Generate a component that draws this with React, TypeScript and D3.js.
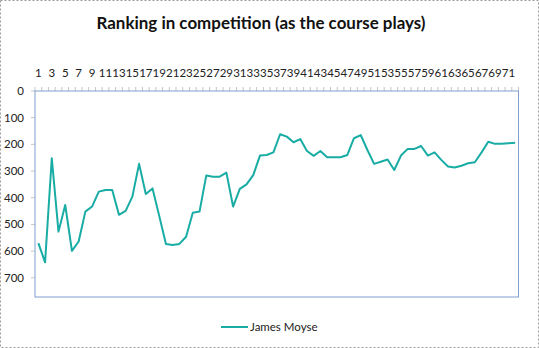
import React from "react";
import * as d3 from "d3";

const categories: number[] = Array.from({ length: 72 }, (_, i) => i + 1);
const ranking: number[] = [
  570, 642, 252, 527, 427, 599, 564, 452, 433, 377,
  371, 371, 464, 449, 396, 273, 386, 365, 468, 573,
  577, 573, 546, 456, 452, 317, 321, 321, 306, 433,
  367, 350, 315, 242, 240, 230, 162, 171, 192, 180,
  225, 243, 225, 248, 248, 248, 240, 177, 165, 221,
  273, 265, 257, 296, 242, 217, 217, 206, 242, 230,
  258, 283, 287, 280, 271, 267, 230, 190, 198, 198,
  196, 194,
];
const yTicks: number[] = [0, 100, 200, 300, 400, 500, 600, 700];
const seriesName = "James Moyse";
const title = "Ranking in competition (as the course plays)";

const W = 539;
const H = 348;
const left = 35;
const right = 518.5;
const top = 91;
const bottom = 297;
const FONT = "Lato, 'Open Sans', sans-serif";
const LINE = "#19aca4";
const AXIS = "#7f9fd0";

export default function App() {
  const x = d3.scaleBand<number>().domain(categories).range([left, right]).padding(0);
  const cx = (c: number) => (x(c) as number) + x.bandwidth() / 2;
  const y = d3.scaleLinear().domain([0, 772]).range([top, bottom]);
  const line = d3
    .line<number>()
    .x((_, i) => cx(categories[i]))
    .y((d) => y(d));

  const boundaries = categories.map((c) => x(c) as number).concat([right]);

  return (
    <svg
      width={W}
      height={H}
      style={{ position: "absolute", left: 0, top: 0, background: "#fff" }}
      fontFamily={FONT}
    >
      <rect x={0.5} y={0.5} width={W - 1} height={H - 1} fill="#fff" stroke="#9a9a9a" strokeDasharray="2,2" />
      <text x={261} y={29} textAnchor="middle" fontSize={17.5} fontWeight="bold" fill="#111" textLength={329} lengthAdjust="spacingAndGlyphs">
        {title}
      </text>

      {/* x ticks (top) */}
      {boundaries.map((b, i) => (
        <line key={"xt" + i} x1={b} x2={b} y1={top - 4} y2={top} stroke="#c4c4c4" strokeWidth={1} />
      ))}
      {categories
        .filter((c) => c % 2 === 1)
        .map((c) => (
          <text key={"xl" + c} x={cx(c)} y={77} textAnchor="middle" fontSize={11.5} fill="#222">
            {c}
          </text>
        ))}

      {/* y ticks */}
      {yTicks.map((t) => (
        <g key={"yt" + t}>
          <line x1={left - 4} x2={left} y1={y(t)} y2={y(t)} stroke="#c4c4c4" />
          <text x={24} y={y(t)} dy="0.35em" textAnchor="end" fontSize={11.5} fill="#222">
            {t}
          </text>
        </g>
      ))}

      <rect x={left} y={top} width={right - left} height={bottom - top} fill="none" stroke={AXIS} strokeWidth={1} />

      <path d={line(ranking) || ""} fill="none" stroke={LINE} strokeWidth={2} strokeLinejoin="round" />

      {/* legend */}
      <line x1={221} x2={248} y1={327} y2={327} stroke={LINE} strokeWidth={2} />
      <text x={250} y={331} fontSize={11.5} fill="#222">
        {seriesName}
      </text>
    </svg>
  );
}
